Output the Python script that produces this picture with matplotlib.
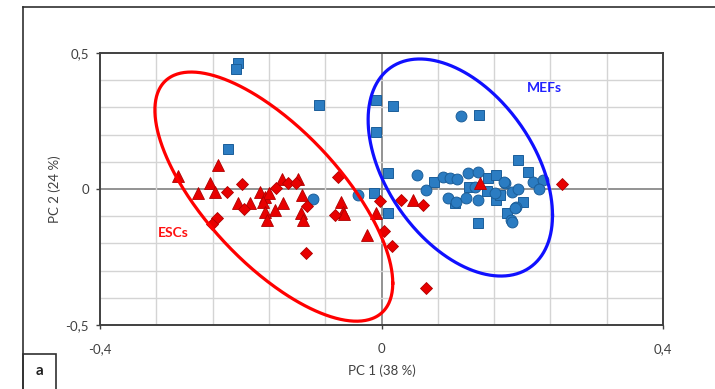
import matplotlib
matplotlib.use("Agg")
import matplotlib.pyplot as plt
import numpy as np
from matplotlib.lines import Line2D
from matplotlib.patches import Rectangle

plt.rcParams['font.family'] = ['Lato', 'DejaVu Sans']

# PCA scores
mef_sq_x = [-0.204, -0.207, -0.089, -0.008, -0.008, 0.016, -0.218, 0.138, 0.194, 0.009,
            0.075, 0.151, 0.163, 0.124, 0.150, 0.163, 0.137, 0.208, 0.168, 0.178,
            0.201, -0.011, 0.009, 0.104]
mef_sq_y = [0.463, 0.441, 0.309, 0.327, 0.210, 0.305, 0.147, 0.272, 0.107, 0.059,
            0.026, 0.040, 0.051, 0.007, -0.007, -0.040, -0.125, 0.063, -0.022, -0.088,
            -0.048, -0.015, -0.088, -0.051]

mef_ci_x = [0.113, 0.050, 0.063, 0.087, 0.097, 0.107, 0.123, 0.137, 0.175, 0.133,
            0.185, 0.194, 0.094, 0.106, 0.120, 0.137, 0.184, 0.191, 0.215, 0.229,
            0.224, 0.174, 0.190, 0.185, -0.033, -0.097, 0.161]
mef_ci_y = [0.268, 0.051, -0.004, 0.044, 0.040, 0.037, 0.059, 0.063, 0.022, 0.007,
            -0.011, 0.000, -0.033, -0.048, -0.033, -0.040, -0.114, -0.066, 0.026, 0.033,
            0.000, 0.026, -0.070, -0.121, -0.022, -0.037, -0.015]

esc_tri_x = [-0.289, -0.232, -0.244, -0.236, -0.261, -0.204, -0.187, -0.173, -0.165, -0.160,
             -0.168, -0.151, -0.165, -0.163, -0.141, -0.119, -0.113, -0.140, -0.114, -0.111,
             -0.057, -0.055, -0.053, -0.008, -0.021, 0.045, 0.140]
esc_tri_y = [0.048, 0.088, 0.022, -0.011, -0.015, -0.051, -0.051, -0.011, -0.029, -0.015,
             -0.048, -0.077, -0.085, -0.114, 0.037, 0.037, -0.022, -0.051, -0.088, -0.114,
             -0.048, -0.085, -0.092, -0.088, -0.169, -0.040, 0.022]

esc_dia_x = [-0.219, -0.198, -0.195, -0.234, -0.241, -0.150, -0.133, -0.121, -0.106, -0.062,
             -0.066, -0.107, -0.002, 0.004, 0.015, 0.028, 0.059, 0.063, 0.256]
esc_dia_y = [-0.011, 0.018, -0.074, -0.107, -0.129, 0.004, 0.022, 0.022, -0.063, 0.044,
             -0.096, -0.235, -0.044, -0.154, -0.210, -0.040, -0.059, -0.364, 0.018]

# confidence ellipses: centre, half extent in x and y, correlation
esc_ell = (-0.153, -0.028, 0.169, 0.458, -0.695)
mef_ell = (0.112, 0.079, 0.131, 0.399, -0.44)


def ellipse(cx, cy, hx, hy, rho):
    t = np.linspace(0, 2*np.pi, 400)
    x = cx + hx*np.cos(t)
    y = cy + hy*(rho*np.cos(t) + np.sqrt(1 - rho**2)*np.sin(t))
    return x, y


fig = plt.figure(figsize=(7.15, 3.89), dpi=100)
ax = fig.add_axes([100/715, 1-325/389, 563/715, 272/389])

ax.set_xlim(-0.4, 0.4)
ax.set_ylim(-0.5, 0.5)
ax.set_xticks([-0.4, 0, 0.4])
ax.set_xticklabels(["-0,4", "0", "0,4"])
ax.set_yticks([-0.5, 0, 0.5])
ax.set_yticklabels(["-0,5", "0", "0,5"])
ax.set_xticks(np.arange(-0.4, 0.41, 0.08), minor=True)
ax.set_yticks(np.arange(-0.5, 0.51, 0.1), minor=True)
ax.grid(which="minor", color="#d4d4d4", lw=1.0)
ax.tick_params(which="minor", length=0)
ax.tick_params(which="major", length=3, width=1, color="#404040", labelcolor="#404040", labelsize=9.5)
ax.tick_params(axis="x", pad=10)
ax.tick_params(axis="y", pad=5)
for s in ax.spines.values():
    s.set_color("#404040")
    s.set_linewidth(1.4)
ax.axhline(0, color="#8a8a8a", lw=1.3, zorder=1)
ax.axvline(0, color="#8a8a8a", lw=1.3, zorder=1)

ax.plot(mef_sq_x, mef_sq_y, "s", color="#2b7cc2", mec="#1b5e99", mew=0.7, ms=7.2, zorder=3)
ax.plot(mef_ci_x, mef_ci_y, "o", color="#2b7cc2", mec="#1b5e99", mew=0.7, ms=7.8, zorder=3)
ax.plot(esc_tri_x, esc_tri_y, "^", color="#e80000", mec="#b00000", mew=0.6, ms=8, zorder=3)
ax.plot(esc_dia_x, esc_dia_y, "D", color="#e80000", mec="#b00000", mew=0.6, ms=6, zorder=3)

ex, ey = ellipse(*esc_ell)
ax.plot(ex, ey, color="#ff0000", lw=2.3, zorder=4)
mx, my = ellipse(*mef_ell)
ax.plot(mx, my, color="#1010ff", lw=2.3, zorder=4)

ax.text(0.232, 0.371, "MEFs", color="#2020ff", fontsize=10, fontweight="bold", ha="center", va="center")
ax.text(-0.296, -0.162, "ESCs", color="#ff1010", fontsize=10, fontweight="bold", ha="center", va="center")

ax.set_xlabel("PC 1 (38 %)", fontsize=9.5, color="#404040", labelpad=7)
ax.set_ylabel("PC 2 (24 %)", fontsize=9.5, color="#404040", labelpad=3)

# outer frame and panel letter
fig.add_artist(Line2D([23/715, 1], [1-7/389, 1-7/389], transform=fig.transFigure, color="#303030", lw=1.2))
fig.add_artist(Line2D([23/715, 23/715], [0, 1-7/389], transform=fig.transFigure, color="#303030", lw=1.2))
fig.add_artist(Rectangle((23/715, -0.01), 33/715, 39/389, transform=fig.transFigure,
                         fill=False, ec="#303030", lw=1.2))
fig.text(39.5/715, 1-371/389, "a", fontsize=11, fontweight="bold", ha="center", va="center", color="#202020")

fig.savefig("out.png", dpi=100)
